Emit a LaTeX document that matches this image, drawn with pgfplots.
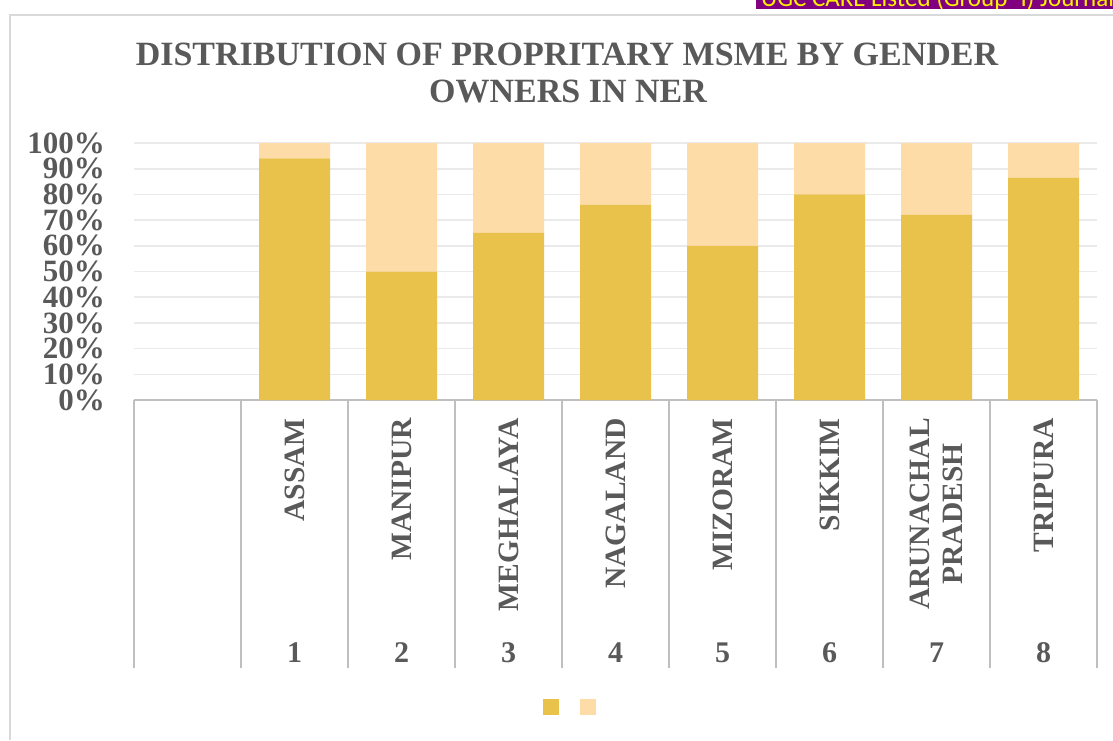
\documentclass[border=0pt]{standalone}
\usepackage{fontspec}
\setmainfont{Liberation Serif}
\newfontfamily\sansf{Carlito}
\usepackage{pgfplots}
\pgfplotsset{compat=1.18}
\definecolor{txt}{HTML}{595959}
\definecolor{dark}{HTML}{E9C24C}
\definecolor{light}{HTML}{FDDCA8}
\definecolor{sepc}{HTML}{BFBFBF}
\definecolor{grd}{HTML}{EAEAEA}
\definecolor{frame}{HTML}{D9D9D9}
\definecolor{ugc}{HTML}{800080}
\begin{document}
\begin{tikzpicture}
\useasboundingbox (0,0) rectangle (1113pt,740pt);
\fill[white] (0,0) rectangle (1113pt,740pt);
\draw[frame, line width=2pt] (10pt,0) -- (10pt,725pt) -- (1113pt,725pt);
\fill[ugc] (756pt,731pt) rectangle (1113pt,740pt);
\begin{scope}
\clip (756pt,731pt) rectangle (1113pt,740pt);
\node[anchor=base west, inner sep=0pt, text=yellow, font=\sansf\fontsize{25}{25}\selectfont] at (761pt,733pt) {UGC CARE Listed (Group -I) Journal};
\end{scope}
\node[anchor=base, inner sep=0pt, text=txt, font=\bfseries\fontsize{34}{34}\selectfont] at (567pt,674pt) {DISTRIBUTION OF PROPRITARY MSME BY GENDER};
\node[anchor=base, inner sep=0pt, text=txt, font=\bfseries\fontsize{34}{34}\selectfont] at (568pt,637pt) {OWNERS IN NER};
\begin{axis}[
  at={(134pt,340pt)}, anchor=south west, scale only axis,
  width=963pt, height=257pt,
  xmin=-0.5, xmax=8.5, ymin=0, ymax=100,
  ybar stacked, bar width=71pt,
  axis line style={draw=none}, tick style={draw=none},
  ymajorgrids, grid style={grd, line width=1.6pt},
  ytick={0,10,...,100},
  /pgf/number format/assume math mode=true,
  yticklabel={\pgfmathprintnumber{\tick}\%},
  yticklabel style={font=\bfseries\fontsize{31}{31}\selectfont, text=txt, anchor=east, inner sep=0pt, xshift=-29pt},
  xtick={1,...,8},
  xticklabels={ASSAM,MANIPUR,MEGHALAYA,NAGALAND,MIZORAM,SIKKIM,{ARUNACHAL\\PRADESH},TRIPURA},
  xticklabel style={rotate=90, anchor=east, align=center, inner xsep=18pt, inner ysep=0pt,
    font=\bfseries\fontsize{29.5}{33}\selectfont, text=txt},
  clip=false,
  legend columns=2,
  legend image code/.code={\fill[#1] (0pt,-8pt) rectangle (16pt,8pt);},
  legend style={at={(0.4527,-1.1946)}, anchor=center, draw=none, fill=none, inner sep=0pt,
    nodes={inner sep=0pt}, /tikz/every even column/.append style={column sep=20pt}},
]
\addplot[fill=dark, draw=none] coordinates {(1,94) (2,50) (3,65) (4,76) (5,60) (6,80) (7,72) (8,86.5)};
\addlegendentry{}
\addplot[fill=light, draw=none] coordinates {(1,6) (2,50) (3,35) (4,24) (5,40) (6,20) (7,28) (8,13.5)};
\addlegendentry{}
\draw[sepc, line width=1.3pt] (axis cs:-0.5,0) -- (axis cs:8.5,0);
\pgfplotsinvokeforeach{-0.5,0.5,...,8.5}{
  \draw[sepc, line width=1.3pt] (axis cs:#1,0) -- ([yshift=-268pt]axis cs:#1,0);
}
\pgfplotsinvokeforeach{1,...,8}{
  \node[anchor=base, inner sep=0pt, text=txt, font=\bfseries\fontsize{30}{30}\selectfont] at ([yshift=-262pt]axis cs:#1,0) {#1};
}
\end{axis}
\end{tikzpicture}
\end{document}
